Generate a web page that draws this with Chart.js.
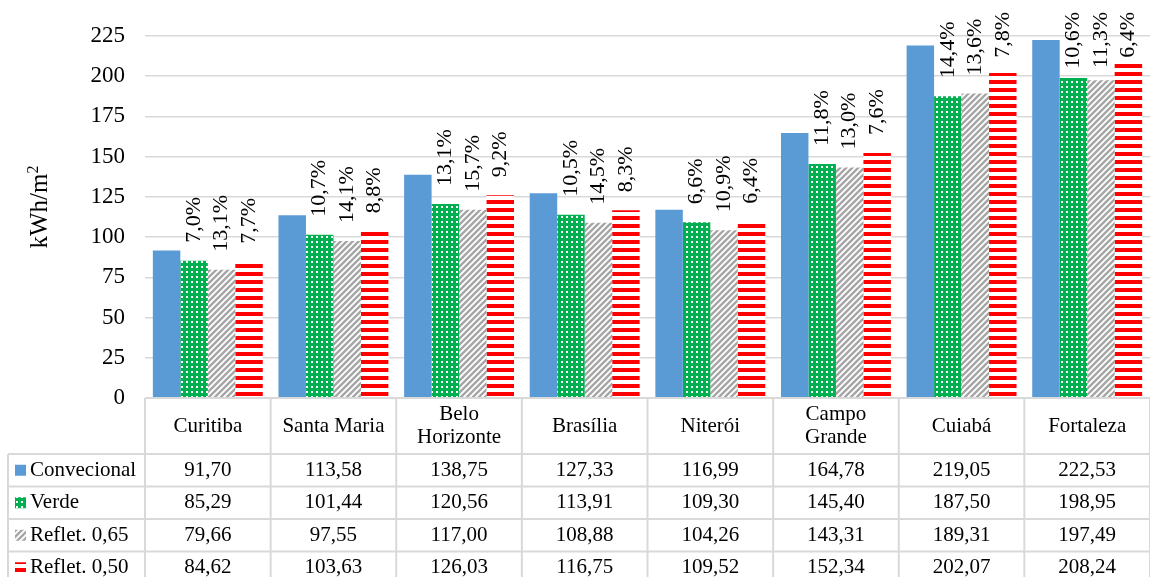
<!DOCTYPE html>
<html>
<head>
<meta charset="utf-8">
<title>Consumo kWh/m²</title>
<script src="https://cdn.jsdelivr.net/npm/chart.js@4/dist/chart.umd.min.js"></script>
<style>
  body { margin: 0; background: #fff; }
  canvas { display: block; }
</style>
</head>
<body>
<canvas id="grafico" width="1150" height="577"></canvas>
<script>
// dados
const cidades = ['Curitiba', 'Santa Maria', ['Belo', 'Horizonte'], 'Brasília', 'Niterói', ['Campo', 'Grande'], 'Cuiabá', 'Fortaleza'];
const series = ['Convecional', 'Verde', 'Reflet. 0,65', 'Reflet. 0,50'];
const convencional = [91.70, 113.58, 138.75, 127.33, 116.99, 164.78, 219.05, 222.53];
const verde = [85.29, 101.44, 120.56, 113.91, 109.30, 145.40, 187.50, 198.95];
const reflet065 = [79.66, 97.55, 117.00, 108.88, 104.26, 143.31, 189.31, 197.49];
const reflet050 = [84.62, 103.63, 126.03, 116.75, 109.52, 152.34, 202.07, 208.24];
// reduções em relação ao convencional (rótulos)
const redVerde = ['7,0%', '10,7%', '13,1%', '10,5%', '6,6%', '11,8%', '14,4%', '10,6%'];
const red065 = ['13,1%', '14,1%', '15,7%', '14,5%', '10,9%', '13,0%', '13,6%', '11,3%'];
const red050 = ['7,7%', '8,8%', '9,2%', '8,3%', '6,4%', '7,6%', '7,8%', '6,4%'];
const yMax = 225;
const yStep = 25;

const FONTE = '"Liberation Serif", "Times New Roman", serif';
const GRADE = '#d9d9d9';

const canvas = document.getElementById('grafico');
const ctx = canvas.getContext('2d');

function padrao(w, h, desenha) {
    const c = document.createElement('canvas');
    c.width = w;
    c.height = h;
    desenha(c.getContext('2d'), w, h);
    return ctx.createPattern(c, 'repeat');
}

const corAzul = '#5b9bd5';
const padVerde = padrao(5, 5, (g, w, h) => {
    g.fillStyle = '#00b050';
    g.fillRect(0, 0, w, h);
    g.fillStyle = '#ffffff';
    g.fillRect(1, 1, 2, 2);
});
const padCinza = padrao(6, 6, (g, w, h) => {
    g.fillStyle = '#ffffff';
    g.fillRect(0, 0, w, h);
    g.strokeStyle = '#a6a6a6';
    g.lineWidth = 2.4;
    g.beginPath();
    g.moveTo(-3, 3); g.lineTo(3, -3);
    g.moveTo(0, 6); g.lineTo(6, 0);
    g.moveTo(3, 9); g.lineTo(9, 3);
    g.stroke();
});
const padVermelho = padrao(8, 8, (g, w, h) => {
    g.fillStyle = '#ffffff';
    g.fillRect(0, 0, w, h);
    g.fillStyle = '#ff0000';
    g.fillRect(0, 0, w, 4);
});
const cores = [corAzul, padVerde, padCinza, padVermelho];
const valores = [convencional, verde, reflet065, reflet050];
const rotulos = [null, redVerde, red065, red050];

// rótulos rotacionados acima das barras
const rotulosPlugin = {
    id: 'rotulos',
    afterDatasetsDraw(chart) {
        const c = chart.ctx;
        c.save();
        c.font = '22px ' + FONTE;
        c.fillStyle = '#000';
        c.textAlign = 'left';
        c.textBaseline = 'middle';
        for (let i = 1; i < 4; i++) {
            const meta = chart.getDatasetMeta(i);
            meta.data.forEach((bar, j) => {
                const txt = rotulos[i][j];
                const w = c.measureText(txt).width;
                let base = bar.y - 18;
                if (base - w < 12) base = 12 + w;
                c.save();
                c.translate(bar.x, base);
                c.rotate(-Math.PI / 2);
                c.fillText(txt, 0, 0);
                c.restore();
            });
        }
        c.restore();
    }
};

// tabela de dados abaixo do gráfico
const tabelaPlugin = {
    id: 'tabela',
    afterDraw(chart) {
        const c = chart.ctx;
        const area = chart.chartArea;
        const x = chart.scales.x;
        const topo = area.bottom;
        const cab = 56;
        const linha = 32.5;
        const esq = 8;
        const bordas = [];
        for (let j = 0; j <= cidades.length; j++) {
            bordas.push(area.left + j * (area.right - area.left) / cidades.length);
        }
        c.save();
        c.strokeStyle = GRADE;
        c.lineWidth = 2;
        c.beginPath();
        c.moveTo(area.left, topo); c.lineTo(area.right, topo);
        for (let r = 0; r <= series.length; r++) {
            const y = topo + cab + r * linha;
            c.moveTo(esq, y); c.lineTo(area.right, y);
        }
        bordas.forEach(bx => { c.moveTo(bx, topo); c.lineTo(bx, chart.height); });
        c.moveTo(esq, topo + cab); c.lineTo(esq, chart.height);
        c.stroke();

        c.fillStyle = '#000';
        c.font = '21px ' + FONTE;
        c.textAlign = 'center';
        c.textBaseline = 'middle';
        cidades.forEach((nome, j) => {
            const cx = x.getPixelForValue(j);
            const cy = topo + cab / 2;
            if (Array.isArray(nome)) {
                c.fillText(nome[0], cx, cy - 11.5);
                c.fillText(nome[1], cx, cy + 11.5);
            } else {
                c.fillText(nome, cx, cy);
            }
        });
        series.forEach((s, r) => {
            const cy = topo + cab + r * linha + linha / 2;
            c.fillStyle = cores[r];
            c.fillRect(15, cy - 5.5, 11, 11);
            c.fillStyle = '#000';
            c.textAlign = 'left';
            c.fillText(s, 30, cy);
            c.textAlign = 'center';
            valores[r].forEach((v, j) => {
                c.fillText(v.toFixed(2).replace('.', ','), x.getPixelForValue(j), cy);
            });
        });
        c.restore();
    }
};

// título do eixo y (kWh/m com expoente 2)
const tituloPlugin = {
    id: 'tituloY',
    afterDraw(chart) {
        const c = chart.ctx;
        c.save();
        c.fillStyle = '#000';
        c.font = '25px ' + FONTE;
        const w1 = c.measureText('kWh/m').width;
        c.font = '16px ' + FONTE;
        const w2 = c.measureText('2').width;
        c.translate(47, 207);
        c.rotate(-Math.PI / 2);
        c.textAlign = 'left';
        c.textBaseline = 'alphabetic';
        const x0 = -(w1 + w2) / 2;
        c.font = '25px ' + FONTE;
        c.fillText('kWh/m', x0, 0);
        c.font = '16px ' + FONTE;
        c.fillText('2', x0 + w1, -9);
        c.restore();
    }
};

new Chart(ctx, {
    type: 'bar',
    data: {
        labels: cidades.map(n => Array.isArray(n) ? n.join(' ') : n),
        datasets: series.map((s, i) => ({
            label: s,
            data: valores[i],
            backgroundColor: cores[i],
            borderWidth: 0,
            categoryPercentage: 0.875,
            barPercentage: 1.0
        }))
    },
    options: {
        responsive: false,
        animation: false,
        layout: { padding: { top: 36, bottom: 179, left: 0, right: 0 } },
        plugins: {
            legend: { display: false },
            tooltip: { enabled: false }
        },
        scales: {
            x: { display: false },
            y: {
                min: 0,
                max: yMax,
                afterFit(scale) { scale.width = 145; },
                border: { display: false },
                grid: { color: GRADE, lineWidth: 1.5, drawTicks: false },
                ticks: {
                    stepSize: yStep,
                    padding: 20,
                    color: '#000',
                    font: { family: FONTE, size: 23 }
                }
            }
        }
    },
    plugins: [rotulosPlugin, tabelaPlugin, tituloPlugin]
});
</script>
</body>
</html>
